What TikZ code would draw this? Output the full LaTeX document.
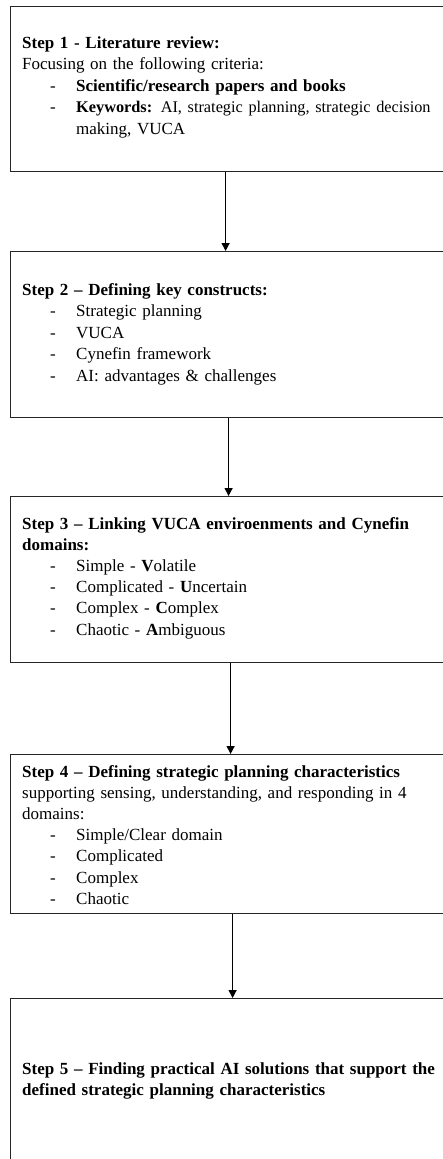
\documentclass[tikz,border=0pt]{standalone}
\usepackage{fontspec}
\setmainfont{Liberation Serif}
\usetikzlibrary{arrows.meta}
\tikzset{
  stepbox/.style={draw=black!85, line width=1.2pt, rectangle, inner sep=0pt,
    anchor=north west, minimum width=436pt},
  txt/.style={anchor=base west, inner sep=0pt, text width=421pt,
    font=\fontsize{17}{21.3}\selectfont},
  arr/.style={draw=black, line width=1.3pt, -{Triangle[width=8pt,length=8pt]}},
}
\newcommand\itm[1]{\par{\leftskip=54pt\noindent\llap{\makebox[26pt][l]{-}}#1\par}}
\begin{document}
\begin{tikzpicture}[x=1pt,y=-1pt]
\useasboundingbox (0,0) rectangle (442,1159);
\fill[white] (0,0) rectangle (442,1159);
% boxes
\node[stepbox, minimum height=165pt] (b1) at (10,6) {};
\node[stepbox, minimum height=166pt] (b2) at (10,251) {};
\node[stepbox, minimum height=166pt] (b3) at (10,496) {};
\node[stepbox, minimum height=159pt] (b4) at (10,754) {};
\node[stepbox, minimum height=180pt] (b5) at (10,998) {};
% texts
\node[txt] (t1) at (22,48) {\hyphenpenalty=10000\baselineskip=21.6pt
\textbf{Step 1 - Literature review:}\par
Focusing on the following criteria:
\itm{\textbf{Scientific/research papers and books}}
\itm{\makebox[364pt][s]{\fontsize{16.3}{21.6}\selectfont\textbf{Keywords:} AI, strategic planning, strategic decision}\par\noindent making, VUCA}};
\node[txt] (t2) at (22,295) {\hyphenpenalty=10000\baselineskip=21.5pt
\textbf{Step 2 -- Defining key constructs:}\par
\itm{Strategic planning}\itm{VUCA}\itm{Cynefin framework}\itm{AI: advantages \& challenges}};
\node[txt] (t3) at (22,529) {\hyphenpenalty=10000\baselineskip=21.2pt
\textbf{Step 3 -- Linking VUCA enviroenments and Cynefin\linebreak domains:}\par
\itm{Simple - \textbf{V}olatile}\itm{Complicated - \textbf{U}ncertain}\itm{Complex - \textbf{C}omplex}\itm{Chaotic - \textbf{A}mbiguous}};
\node[txt] (t4) at (22,777) {\hyphenpenalty=10000\baselineskip=21.2pt
\textbf{Step 4 -- Defining strategic planning characteristics}\linebreak supporting sensing, understanding, and responding in 4\linebreak domains:\par
\itm{Simple/Clear domain}\itm{Complicated}\itm{Complex}\itm{Chaotic}};
\node[txt] (t5) at (22,1074) {\hyphenpenalty=10000\baselineskip=21pt
\textbf{Step 5 -- Finding practical AI solutions that support the\linebreak defined strategic planning characteristics}};
% arrows
\draw[arr] ([xshift=-3pt]b1.south) -- ([xshift=-3pt]b2.north);
\draw[arr] ([xshift=0pt]b2.south) -- ([xshift=0pt]b3.north);
\draw[arr] ([xshift=2pt]b3.south) -- ([xshift=2pt]b4.north);
\draw[arr] ([xshift=4pt]b4.south) -- ([xshift=4pt]b5.north);
\end{tikzpicture}
\end{document}
